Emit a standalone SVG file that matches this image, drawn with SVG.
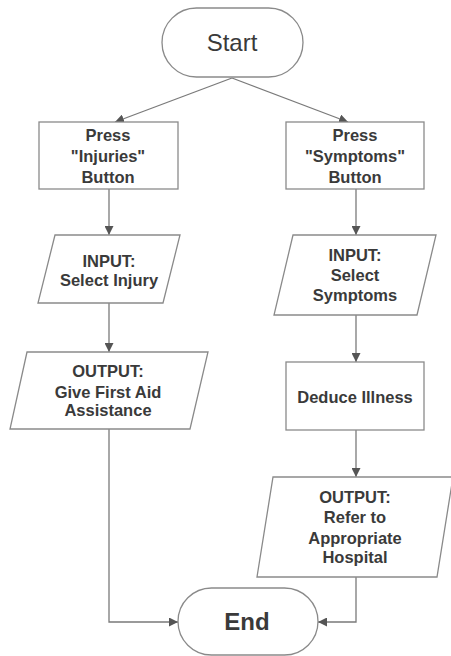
<svg xmlns="http://www.w3.org/2000/svg" width="451" height="656" viewBox="0 0 451 656">
<style>
.shape{fill:#fff;stroke:#8a8a8a;stroke-width:1.3}
.t{font-family:"Liberation Sans",Arial,sans-serif;font-weight:bold;font-size:16.5px;fill:#3a3a3a;text-anchor:middle}
.big{font-family:"Liberation Sans",Arial,sans-serif;font-size:24px;fill:#3a3a3a;text-anchor:middle}
.conn{fill:none;stroke:#7a7a7a;stroke-width:1.3;marker-end:url(#ah)}
</style>
<defs>
<marker id="ah" viewBox="0 0 10 10" refX="10" refY="5" markerWidth="9" markerHeight="9" markerUnits="userSpaceOnUse" orient="auto">
<path d="M0,0 L10,5 L0,10 Z" fill="#555"/>
</marker>
</defs>
<rect width="451" height="656" fill="#fff"/>
<g id="connectors">
<line class="conn" x1="232" y1="78" x2="115" y2="122"/>
<line class="conn" x1="232" y1="78" x2="348" y2="122"/>
<line class="conn" x1="109" y1="189" x2="109" y2="235"/>
<line class="conn" x1="109" y1="303" x2="109" y2="352"/>
<polyline class="conn" points="109,429 109,622 178,622"/>
<line class="conn" x1="356" y1="189" x2="356" y2="235"/>
<line class="conn" x1="356" y1="315" x2="356" y2="362"/>
<line class="conn" x1="356" y1="430" x2="356" y2="477"/>
<polyline class="conn" points="356,577 356,622 318,622"/>
</g>
<g id="start">
<rect class="shape" x="162" y="8" width="141" height="69" rx="34.5"/>
<text class="big" x="232" y="51">Start</text>
</g>
<g id="press-injuries">
<rect class="shape" x="39" y="122" width="139" height="67"/>
<text class="t" x="108" y="141">Press</text>
<text class="t" x="108" y="162">"Injuries"</text>
<text class="t" x="108" y="183">Button</text>
</g>
<g id="input-injury">
<polygon class="shape" points="55,235 180,235 163,303 38,303"/>
<text class="t" x="109" y="267">INPUT:</text>
<text class="t" x="109" y="286">Select Injury</text>
</g>
<g id="output-first-aid">
<polygon class="shape" points="27,352 208,352 190,429 10,429"/>
<text class="t" x="108" y="377">OUTPUT:</text>
<text class="t" x="108" y="398">Give First Aid</text>
<text class="t" x="108" y="416">Assistance</text>
</g>
<g id="press-symptoms">
<rect class="shape" x="286" y="122" width="138" height="67"/>
<text class="t" x="355" y="141">Press</text>
<text class="t" x="355" y="162">"Symptoms"</text>
<text class="t" x="355" y="183">Button</text>
</g>
<g id="input-symptoms">
<polygon class="shape" points="293,235 436,235 417,315 274,315"/>
<text class="t" x="355" y="261">INPUT:</text>
<text class="t" x="355" y="281">Select</text>
<text class="t" x="355" y="301">Symptoms</text>
</g>
<g id="deduce-illness">
<rect class="shape" x="286" y="362" width="138" height="68"/>
<text class="t" x="355" y="403">Deduce Illness</text>
</g>
<g id="output-hospital">
<polygon class="shape" points="273,477 453,477 437,577 257,577"/>
<text class="t" x="355" y="503">OUTPUT:</text>
<text class="t" x="355" y="523">Refer to</text>
<text class="t" x="355" y="544">Appropriate</text>
<text class="t" x="355" y="563">Hospital</text>
</g>
<g id="end">
<rect class="shape" x="178" y="588" width="140" height="67" rx="33.5"/>
<text class="big" x="247" y="630" font-weight="bold">End</text>
</g>
</svg>
